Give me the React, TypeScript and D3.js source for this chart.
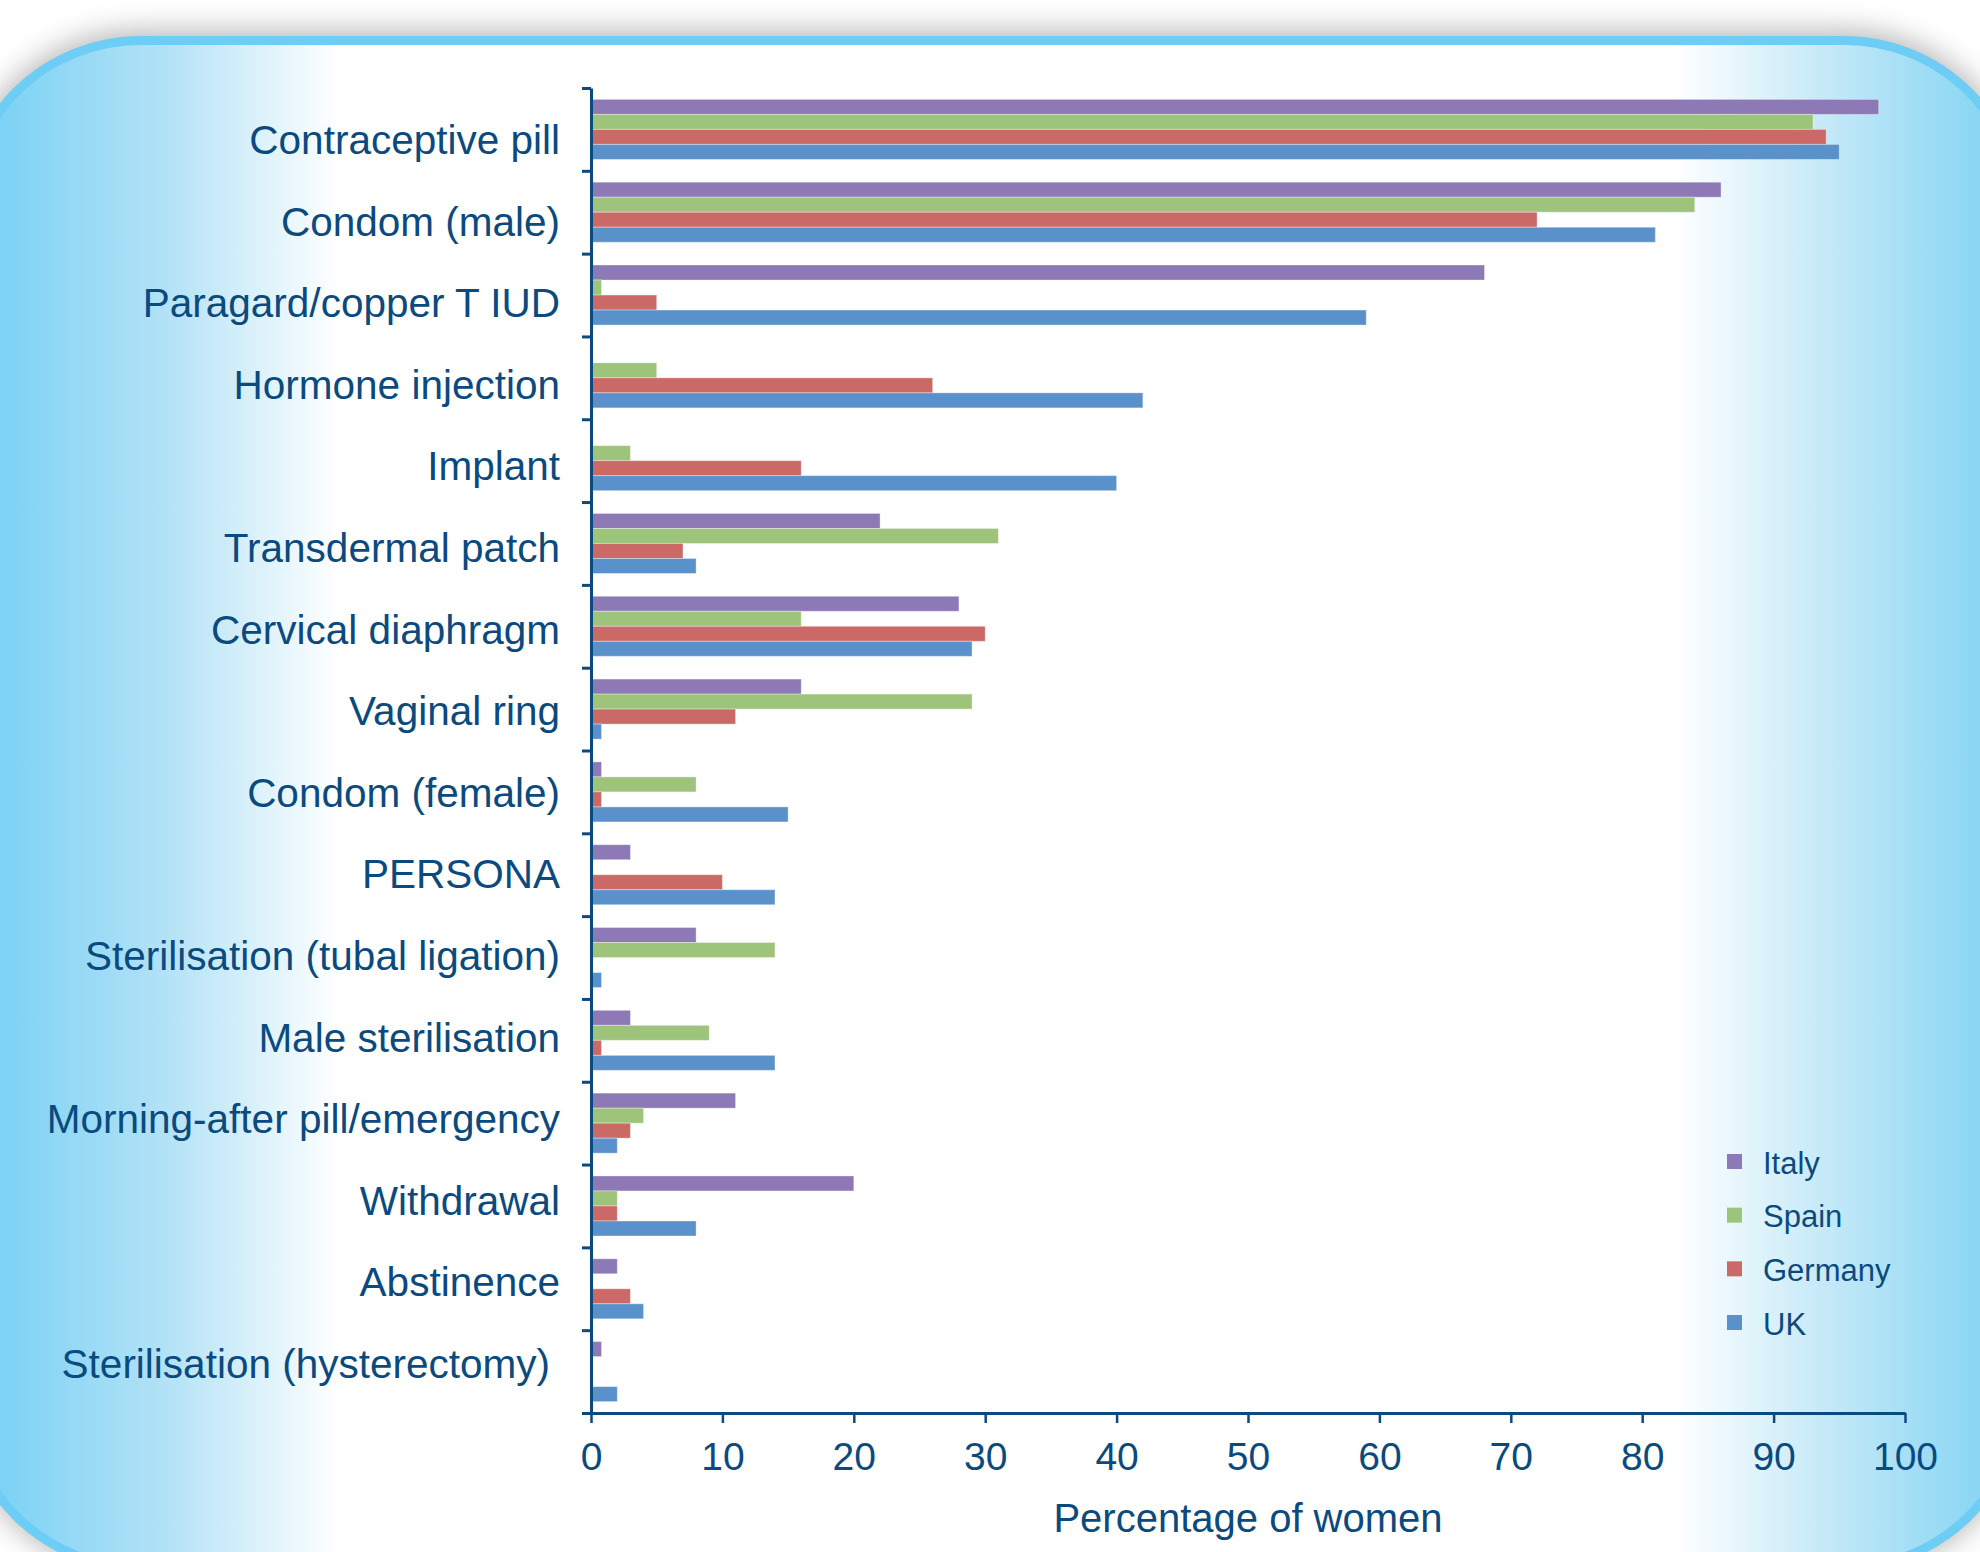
import { useEffect, useRef } from "react";
import {
  select,
  scaleBand,
  scaleLinear,
  scalePoint,
  axisBottom,
  axisLeft,
  range,
} from "d3";

const categories = [
  "Contraceptive pill",
  "Condom (male)",
  "Paragard/copper T IUD",
  "Hormone injection",
  "Implant",
  "Transdermal patch",
  "Cervical diaphragm",
  "Vaginal ring",
  "Condom (female)",
  "PERSONA",
  "Sterilisation (tubal ligation)",
  "Male sterilisation",
  "Morning-after pill/emergency",
  "Withdrawal",
  "Abstinence",
  "Sterilisation (hysterectomy)",
];

const countries = ["Italy", "Spain", "Germany", "UK"];

const italy = [98, 86, 68, 0, 0, 22, 28, 16, 0.8, 3, 8, 3, 11, 20, 2, 0.8];
const spain = [93, 84, 0.8, 5, 3, 31, 16, 29, 8, 0, 14, 9, 4, 2, 0, 0];
const germany = [94, 72, 5, 26, 16, 7, 30, 11, 0.8, 10, 0, 0.8, 3, 2, 3, 0];
const uk = [95, 81, 59, 42, 40, 8, 29, 0.8, 15, 14, 0.8, 14, 2, 8, 4, 2];

const xTicks = [0, 10, 20, 30, 40, 50, 60, 70, 80, 90, 100];

const colors = ["#8c79b5", "#9dc47a", "#cb6967", "#5a91ca"];
const navy = "#0b4a7e";
const font = "'Liberation Sans', Arial, Helvetica, sans-serif";

export default function App() {
  const svgRef = useRef<SVGSVGElement | null>(null);

  useEffect(() => {
    if (!svgRef.current) return;
    const svg = select(svgRef.current);
    svg.selectAll("*").remove();

    const width = 1980;
    const height = 1552;
    const margin = { top: 88, left: 591, right: 1905, bottom: 1413 };

    const defs = svg.append("defs");

    // soft grey shadow round the panel
    const filter = defs
      .append("filter")
      .attr("id", "panelShadow")
      .attr("x", "-10%")
      .attr("y", "-10%")
      .attr("width", "120%")
      .attr("height", "120%");
    filter.append("feGaussianBlur").attr("stdDeviation", 14);

    const grad = defs
      .append("linearGradient")
      .attr("id", "panelFill")
      .attr("gradientUnits", "userSpaceOnUse")
      .attr("x1", -40)
      .attr("x2", 2025)
      .attr("y1", 0)
      .attr("y2", 0);
    [
      [0, "#72cef4"],
      [0.02, "#7dd2f5"],
      [0.1, "#b3e2f6"],
      [0.184, "#ffffff"],
      [0.83, "#ffffff"],
      [0.9, "#c8eaf8"],
      [0.978, "#8ad6f4"],
      [1, "#80d3f4"],
    ].forEach(([o, c]) => {
      grad.append("stop").attr("offset", o).attr("stop-color", c);
    });

    svg
      .append("rect")
      .attr("width", width)
      .attr("height", height)
      .attr("fill", "#ffffff");

    svg
      .append("rect")
      .attr("x", -40)
      .attr("y", 30)
      .attr("width", 2065)
      .attr("height", 1545)
      .attr("rx", 180)
      .attr("fill", "#8a8a8a")
      .attr("opacity", 0.6)
      .attr("filter", "url(#panelShadow)");

    svg
      .append("rect")
      .attr("x", -35.5)
      .attr("y", 40.5)
      .attr("width", 2056)
      .attr("height", 1527)
      .attr("rx", 176)
      .attr("fill", "url(#panelFill)")
      .attr("stroke", "#6dcdf4")
      .attr("stroke-width", 9);

    const x = scaleLinear().domain([0, 100]).range([margin.left, margin.right]);

    const y = scaleBand<string>()
      .domain(categories)
      .range([margin.top, margin.bottom])
      .paddingInner(0.275)
      .paddingOuter(0.1375);

    const ySub = scaleBand<string>()
      .domain(countries)
      .range([0, y.bandwidth()]);

    const series = [italy, spain, germany, uk];

    const bars = svg.append("g");
    series.forEach((values, si) => {
      bars
        .append("g")
        .selectAll("rect")
        .data(values.map((v, i) => ({ v, cat: categories[i] })))
        .enter()
        .filter((d) => d.v > 0)
        .append("rect")
        .attr("x", x(0))
        .attr("y", (d) => (y(d.cat) as number) + (ySub(countries[si]) as number))
        .attr("width", (d) => x(d.v) - x(0))
        .attr("height", ySub.bandwidth())
        .attr("fill", colors[si])
        .attr("stroke", "#ffffff")
        .attr("stroke-opacity", 0.35)
        .attr("stroke-width", 1);
    });

    // y axis: ticks on the band edges
    const yEdge = scaleLinear()
      .domain([0, categories.length])
      .range([margin.top, margin.bottom]);

    const yAxis = svg
      .append("g")
      .attr("transform", `translate(${margin.left},0)`)
      .call(
        axisLeft(yEdge)
          .tickValues(range(categories.length + 1))
          .tickSizeInner(9)
          .tickSizeOuter(0)
          .tickFormat(() => "")
      );
    yAxis.select(".domain").attr("stroke", navy).attr("stroke-width", 3);
    yAxis.selectAll(".tick line").attr("stroke", navy).attr("stroke-width", 3);

    const xAxis = svg
      .append("g")
      .attr("transform", `translate(0,${margin.bottom})`)
      .call(
        axisBottom(x)
          .tickValues(xTicks)
          .tickSizeInner(10)
          .tickSizeOuter(0)
          .tickPadding(19)
      );
    xAxis.select(".domain").attr("stroke", navy).attr("stroke-width", 3);
    xAxis.selectAll(".tick line").attr("stroke", navy).attr("stroke-width", 2.5);
    xAxis
      .selectAll(".tick text")
      .attr("fill", navy)
      .style("font-family", font)
      .style("font-size", "39px");

    // category labels
    const labelY = scalePoint<string>()
      .domain(categories)
      .range([140, 1364]);

    svg
      .append("g")
      .selectAll("text")
      .data(categories)
      .enter()
      .append("text")
      .attr("x", 560)
      .attr("dx", (d, i) => (i === categories.length - 1 ? -10 : 0)) // last label sits a bit further left
      .attr("y", (d) => (labelY(d) as number) + 14)
      .attr("text-anchor", "end")
      .attr("fill", navy)
      .style("font-family", font)
      .style("font-size", "40.5px")
      .text((d) => d);

    svg
      .append("text")
      .attr("x", (margin.left + margin.right) / 2)
      .attr("y", 1532)
      .attr("text-anchor", "middle")
      .attr("fill", navy)
      .style("font-family", font)
      .style("font-size", "40px")
      .text("Percentage of women");

    // legend
    const legendY = scalePoint<string>()
      .domain(countries)
      .range([1161.5, 1322.5]);

    const legend = svg
      .append("g")
      .selectAll("g")
      .data(countries)
      .enter()
      .append("g");

    legend
      .append("rect")
      .attr("x", 1727)
      .attr("y", (d) => (legendY(d) as number) - 7.5)
      .attr("width", 15)
      .attr("height", 15)
      .attr("fill", (d, i) => colors[i]);

    legend
      .append("text")
      .attr("x", 1763)
      .attr("y", (d) => (legendY(d) as number) + 12)
      .attr("fill", navy)
      .style("font-family", font)
      .style("font-size", "31px")
      .text((d) => d);
  }, []);

  return (
    <svg
      ref={svgRef}
      width={1980}
      height={1552}
      style={{ position: "absolute", left: 0, top: 0, display: "block" }}
    ></svg>
  );
}
